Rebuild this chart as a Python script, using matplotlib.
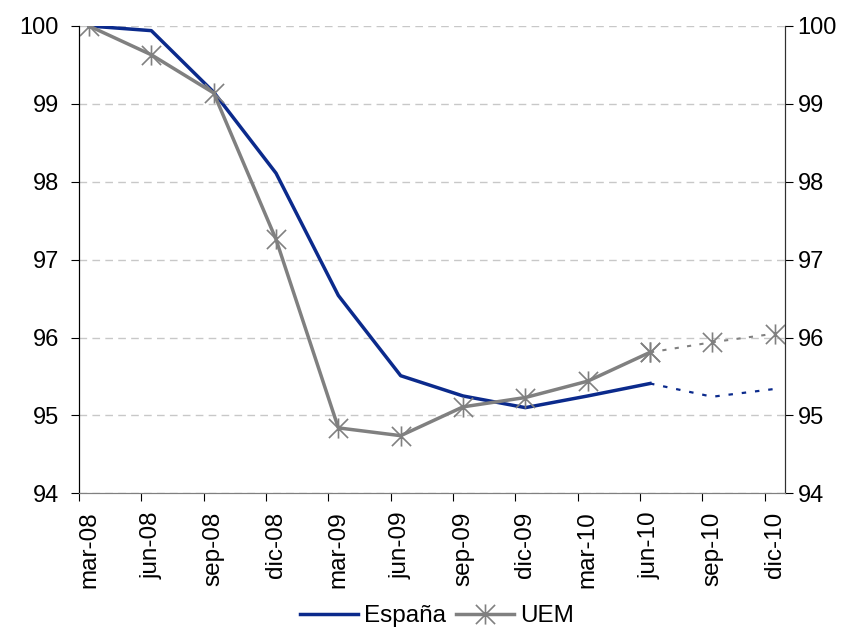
import numpy as np
import matplotlib
matplotlib.use("Agg")
from matplotlib import pyplot as plt
from matplotlib.path import Path
from matplotlib.lines import Line2D

plt.rcParams["font.family"] = ["Liberation Sans", "DejaVu Sans"]

# Quarterly index, mar-08 = 100
quarters = ["mar-08", "jun-08", "sep-08", "dic-08", "mar-09", "jun-09",
            "sep-09", "dic-09", "mar-10", "jun-10", "sep-10", "dic-10"]
espana = [100.0, 99.94, 99.15, 98.11, 96.54, 95.51, 95.25, 95.10, 95.25, 95.41]
espana_prev = [95.41, 95.24, 95.34]
uem = [100.0, 99.63, 99.14, 97.26, 94.84, 94.74, 95.11, 95.23, 95.44, 95.81]
uem_prev = [95.81, 95.94, 96.05]

navy = "#0b2a8c"
grey = "#808080"

# star marker: an X crossed by a vertical stroke
star = Path([(-1, -1), (1, 1), (-1, 1), (1, -1), (0, -1.05), (0, 1.05)],
            [Path.MOVETO, Path.LINETO, Path.MOVETO, Path.LINETO, Path.MOVETO, Path.LINETO])
mk = dict(marker=star, ms=14.5, mew=1.2, mfc="none")

x_obs = np.arange(len(espana))
x_prev = np.arange(len(espana) - 1, len(quarters))

fig = plt.figure(figsize=(8.5, 6.29), dpi=100)
ax = fig.add_axes([0.093, 0.2157, 0.8305, 0.743])

ax.plot(x_obs, espana, color=navy, lw=2.5, zorder=3)
ax.plot(x_prev, espana_prev, color=navy, lw=1.6, ls=(0, (2, 4)), zorder=3)
ax.plot(x_obs, uem, color=grey, lw=2.5, zorder=4, **mk)
ax.plot(x_prev, uem_prev, color=grey, lw=1.5, ls=(0, (2, 4)), zorder=4, **mk)

ax.set_xlim(-0.16, 11.165)
ax.set_ylim(94, 100)
ax.set_yticks(range(94, 101))
ax.yaxis.grid(True, color="#c8c8c8", ls=(0, (5.5, 3.8)), lw=1.0)
ax.set_axisbelow(True)

# tick marks sit a little left of each quarter, labels on the quarter
ax.set_xticks(np.arange(len(quarters)) - 0.16)
ax.set_xticklabels([])
ax.set_xticks(np.arange(len(quarters)), minor=True)
ax.set_xticklabels(quarters, minor=True, rotation=90, fontsize=17.5)
ax.tick_params(axis="x", which="major", direction="out", length=6, color="black")
ax.tick_params(axis="x", which="minor", length=0, pad=13)
ax.tick_params(axis="y", direction="out", length=5.5, labelsize=17, pad=9)

# same scale repeated on the right-hand side
ax2 = ax.twinx()
ax2.set_ylim(94, 100)
ax2.set_yticks(range(94, 101))
ax2.tick_params(axis="y", direction="out", length=5.5, labelsize=17, pad=3.5)

for a in (ax, ax2):
    a.spines["top"].set_visible(False)
    a.spines["bottom"].set_color(grey)
    a.spines["left"].set_color("black")
    a.spines["right"].set_color("#303030")

handles = [Line2D([], [], color=navy, lw=2.5),
           Line2D([], [], color=grey, lw=2.5, **mk)]
fig.legend(handles, ["España", "UEM"], loc="center",
           bbox_to_anchor=(437 / 850, 1 - 616 / 629), ncol=2, frameon=False,
           fontsize=17.5, handlelength=2.4, handletextpad=0.25,
           columnspacing=0.4, borderpad=0)

fig.savefig("out.png", dpi=100)
